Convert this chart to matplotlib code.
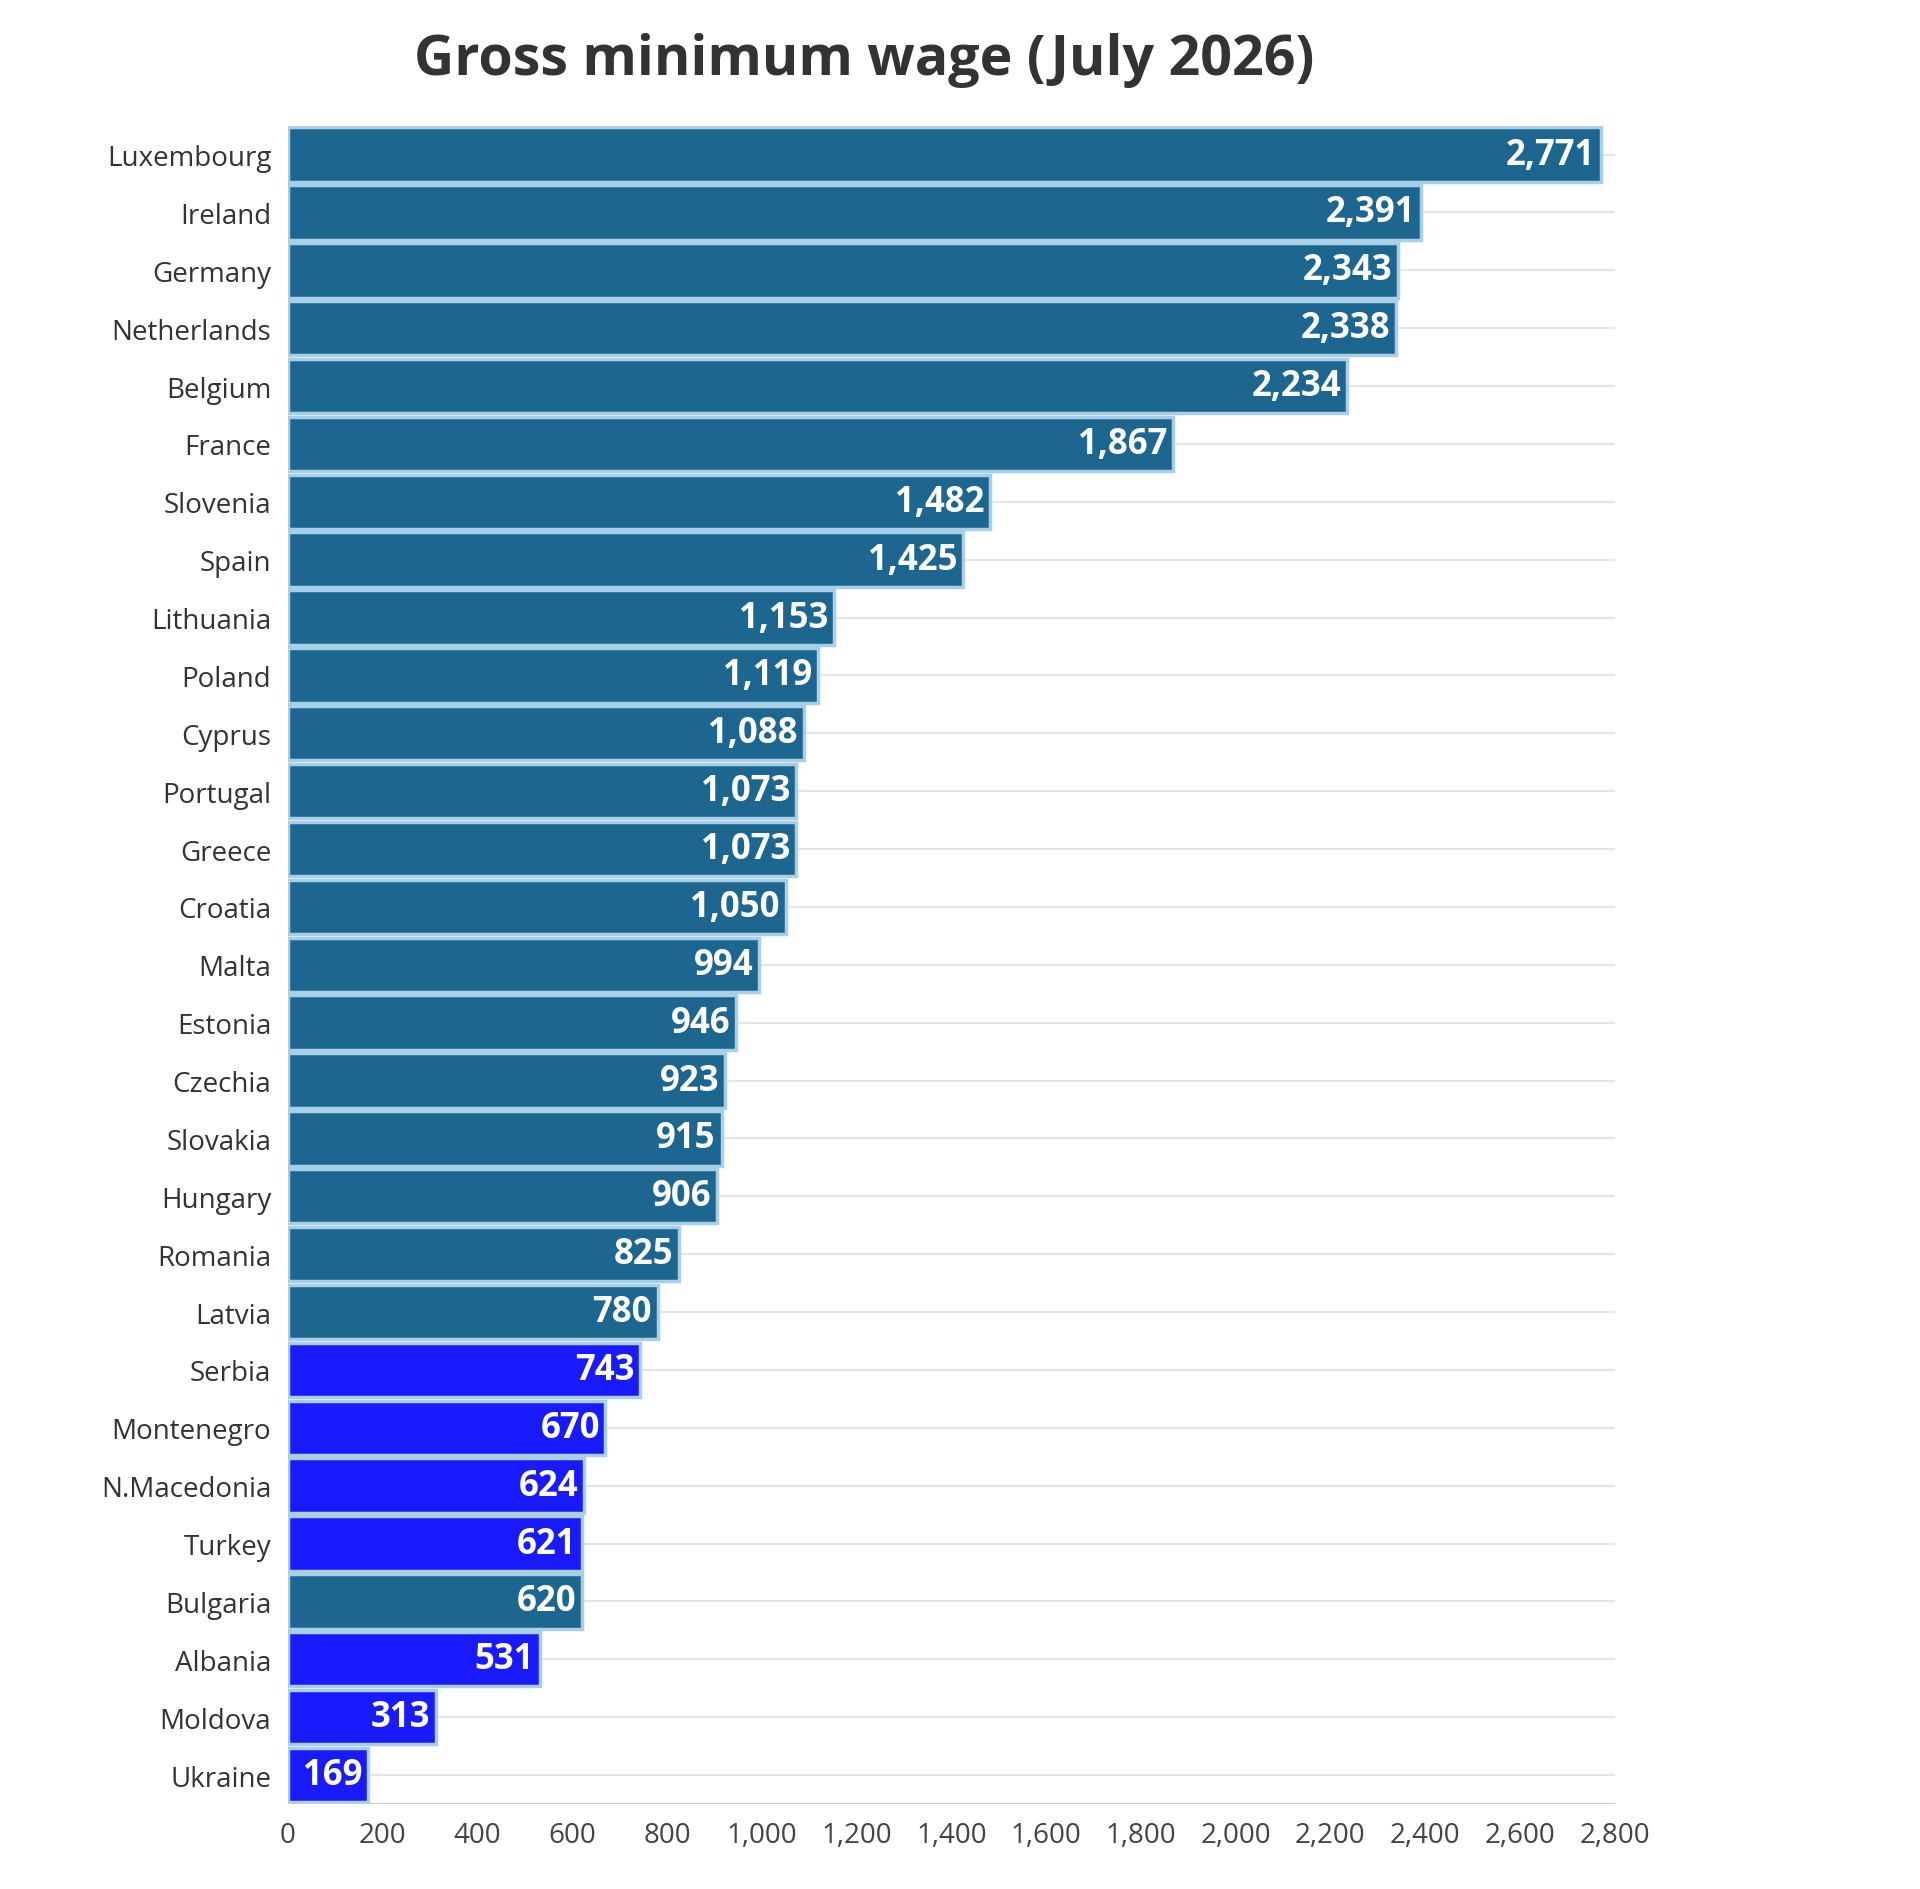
import matplotlib.pyplot as plt

plt.rcParams['font.family'] = ['Open Sans', 'DejaVu Sans']

countries = ['Luxembourg', 'Ireland', 'Germany', 'Netherlands', 'Belgium', 'France',
             'Slovenia', 'Spain', 'Lithuania', 'Poland', 'Cyprus', 'Portugal', 'Greece',
             'Croatia', 'Malta', 'Estonia', 'Czechia', 'Slovakia', 'Hungary', 'Romania',
             'Latvia', 'Serbia', 'Montenegro', 'N.Macedonia', 'Turkey', 'Bulgaria',
             'Albania', 'Moldova', 'Ukraine']
wages = [2771, 2391, 2343, 2338, 2234, 1867, 1482, 1425, 1153, 1119, 1088, 1073, 1073,
         1050, 994, 946, 923, 915, 906, 825, 780, 743, 670, 624, 621, 620, 531, 313, 169]
non_eu = ['Serbia', 'Montenegro', 'N.Macedonia', 'Turkey', 'Albania', 'Moldova', 'Ukraine']

colors = ['#1a1aff' if c in non_eu else '#1c6690' for c in countries]

fig = plt.figure(figsize=(19.2, 18.9), dpi=100)
ax = fig.add_axes([0.150, 0.045, 0.691, 0.888])

y = list(range(len(countries)))
ax.barh(y, wages, height=0.94, color=colors, edgecolor='#a9cfe6', linewidth=2.5, zorder=2)
for yi, v in zip(y, wages):
    ax.text(v - 12, yi, f'{v:,}', ha='right', va='center', color='white',
            fontsize=25, fontweight='bold', zorder=3)

ax.set_yticks(y)
ax.set_yticklabels(countries, fontsize=20, color='#333333')
ax.set_ylim(len(countries) - 0.5, -0.5)
ax.set_xlim(0, 2800)
ax.set_xticks(range(0, 2801, 200))
ax.set_xticklabels([f'{t:,}' for t in range(0, 2801, 200)], fontsize=20, color='#444444')
ax.grid(axis='y', color='#e6e6e6', linewidth=1.5, zorder=0)
ax.tick_params(length=0, pad=12)
for s in ax.spines.values():
    s.set_visible(False)
ax.axhline(len(countries) - 0.5, color='#cccccc', linewidth=1.5)

fig.text(0.45, 0.968, 'Gross minimum wage (July 2026)', ha='center', va='center',
         fontsize=40, fontweight='bold', color='#333333')

fig.savefig('out.png', dpi=100, facecolor='white')
